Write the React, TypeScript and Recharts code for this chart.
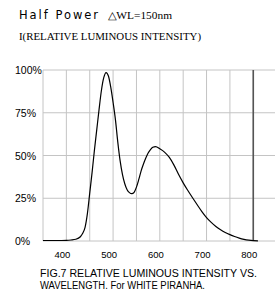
import React from "react";
import {
  CartesianGrid,
  Line,
  LineChart,
  ReferenceLine,
  XAxis,
  YAxis,
} from "recharts";

// wavelength (nm) and relative intensity (%)
const wavelengths = [
  350, 380, 400, 410, 420, 430, 435, 440, 445, 450, 455, 460, 465, 470, 475,
  480, 485, 490, 495, 500, 505, 510, 515, 520, 525, 530, 535, 540, 545, 550,
  555, 560, 565, 570, 575, 580, 585, 591, 600, 610, 620, 630, 640, 650, 660,
  670, 680, 690, 700, 710, 720, 730, 740, 750, 760, 770, 780, 790, 800, 810,
];
const intensity = [
  0.3, 0.3, 0.4, 0.6, 1, 2.5, 4.5, 8, 16, 28, 40, 53, 65, 77, 88, 95.5, 98.5,
  96.5, 90, 81, 71, 58, 47, 39, 33.5, 30, 28.3, 27.7, 28.5, 31.5, 36, 41, 45,
  48.5, 51.5, 53.5, 54.8, 55.2, 53.9, 52, 49, 44.5, 39, 34, 29.5, 25.3, 21.2,
  17.2, 13.7, 10.9, 8.5, 6.6, 5, 3.7, 2.6, 1.7, 1, 0.5, 0.2, 0.1,
];

const gridTicks = [350, 400, 450, 500, 550, 600, 650, 700, 750, 800, 850, 900];
const xLabels = [400, 500, 600, 700, 800];
const yTicks = [0, 25, 50, 75, 100];

const data = wavelengths.map((wl, i) => ({ wl, value: intensity[i] }));

const XTick = (props: any) => {
  const { x, y, payload } = props;
  if (!xLabels.includes(payload.value)) return null;
  return (
    <text
      x={x - 4}
      y={y + 9}
      textAnchor="middle"
      fontSize={9.5}
      fontFamily="Liberation Sans"
      fill="#000"
    >
      {payload.value}
    </text>
  );
};

const YTick = (props: any) => {
  const { y, payload } = props;
  return (
    <text
      x={15}
      y={y + 4}
      textAnchor="start"
      fontSize={10.5}
      fontFamily="Liberation Sans"
      fill="#000"
    >
      {payload.value + "%"}
    </text>
  );
};

function App() {
  return (
    <div
      style={{
        position: "absolute",
        left: 0,
        top: 0,
        width: 275,
        height: 294,
        overflow: "hidden",
        background: "#fff",
      }}
    >
      <LineChart
        width={300}
        height={294}
        data={data}
        margin={{ top: 70, right: 0, bottom: 33, left: 0 }}
        style={{ position: "absolute", left: 0, top: 0 }}
      >
        <CartesianGrid stroke="#c4c4c4" strokeWidth={1} />
        <XAxis
          dataKey="wl"
          type="number"
          domain={[350, 900]}
          ticks={gridTicks}
          height={20}
          axisLine={false}
          tickLine={false}
          tick={<XTick />}
          interval={0}
        />
        <YAxis
          type="number"
          domain={[0, 100]}
          ticks={yTicks}
          width={43}
          axisLine={false}
          tickLine={false}
          tick={<YTick />}
        />
        <ReferenceLine x={800} stroke="#555" strokeWidth={1.6} />
        <Line
          type="monotone"
          dataKey="value"
          stroke="#000"
          strokeWidth={1.2}
          dot={false}
          isAnimationActive={false}
        />
      </LineChart>
      <svg
        width={275}
        height={294}
        style={{ position: "absolute", left: 0, top: 0, pointerEvents: "none" }}
      >
        <text
          x={19}
          y={19}
          fontSize={11.5}
          fontFamily="DejaVu Sans"
          textLength={79}
          lengthAdjust="spacing"
        >
          Half Power
        </text>
        <text
          x={108}
          y={19}
          fontSize={11}
          fontFamily="Liberation Serif"
          textLength={64}
          lengthAdjust="spacingAndGlyphs"
        >
          △WL=150nm
        </text>
        <text
          x={19}
          y={39.5}
          fontSize={11}
          fontFamily="Liberation Serif"
          textLength={182}
          lengthAdjust="spacingAndGlyphs"
        >
          I(RELATIVE LUMINOUS INTENSITY)
        </text>
        <text
          x={40}
          y={276.5}
          fontSize={10}
          fontFamily="Liberation Sans"
          textLength={217}
          lengthAdjust="spacingAndGlyphs"
        >
          FIG.7 RELATIVE LUMINOUS INTENSITY VS.
        </text>
        <text
          x={40}
          y={288.5}
          fontSize={10}
          fontFamily="Liberation Sans"
          textLength={165}
          lengthAdjust="spacingAndGlyphs"
        >
          WAVELENGTH. For WHITE PIRANHA.
        </text>
      </svg>
    </div>
  );
}

export default App;
